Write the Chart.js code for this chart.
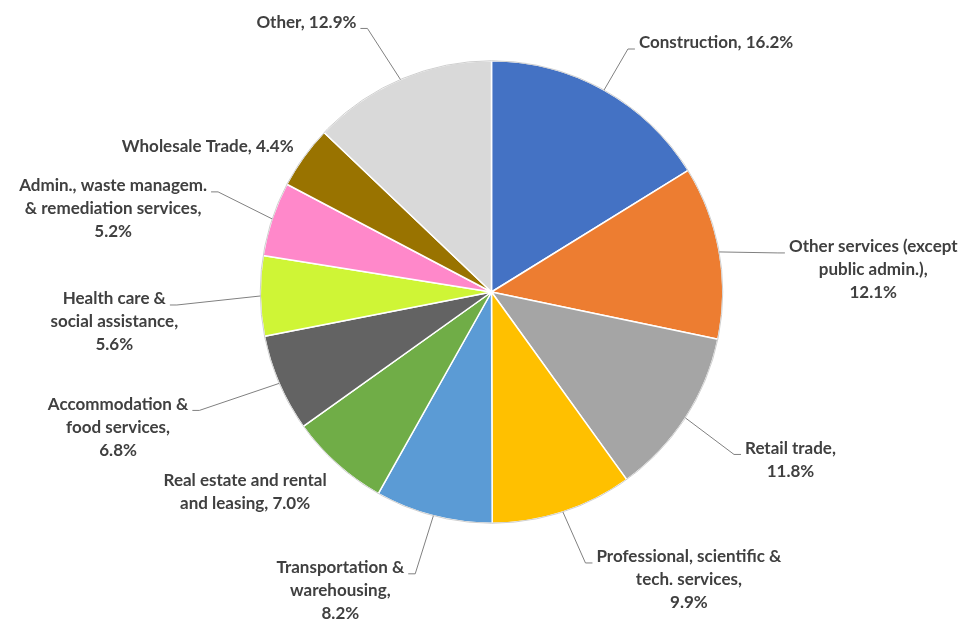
<!DOCTYPE html>
<html><head><meta charset="utf-8">
<script src="https://cdn.jsdelivr.net/npm/chart.js@4.4.1/dist/chart.umd.min.js"></script>
<style>html,body{margin:0;padding:0;background:#fff;}#wrap{width:966px;height:620px;}</style>
</head><body><div id="wrap"><canvas id="c" width="966" height="620"></canvas></div>
<script>
const categories = [
  "Construction",
  "Other services (except\npublic admin.)",
  "Retail trade",
  "Professional, scientific &\ntech. services",
  "Transportation &\nwarehousing",
  "Real estate and rental\nand leasing",
  "Accommodation &\nfood services",
  "Health care &\nsocial assistance",
  "Admin., waste managem.\n& remediation services",
  "Wholesale Trade",
  "Other"
];
const shares = [16.2, 12.1, 11.8, 9.9, 8.2, 7.0, 6.8, 5.6, 5.2, 4.4, 12.9];
const valueOnNewLine = [false, true, true, true, true, false, true, true, true, false, false];
const sliceColors = ["#4472C4","#ED7D31","#A5A5A5","#FFC000","#5B9BD5","#70AD47","#636363","#CFF536","#FF88CA","#997300","#D9D9D9"];
// label placement: offset of label centre from the slice's outer mid-point
const labelOffsets = [[112,-47],[154,18],[105,42],[126,68],[-93,75],[-92,28],[-161,44],[-146,26],[-159,-10],[-96,-11],[-94,-57]];

const FONT = 'bold 17px Lato';
const LH = 23;

const outsideLabels = {
  id: 'outsideLabels',
  afterDatasetsDraw(chart) {
    const ctx = chart.ctx;
    const meta = chart.getDatasetMeta(0);
    ctx.save();
    const a0 = meta.data[0];
    ctx.beginPath();
    ctx.arc(a0.x, a0.y, a0.outerRadius, 0, Math.PI * 2);
    ctx.strokeStyle = '#cfcfcf';
    ctx.lineWidth = 1;
    ctx.stroke();
    ctx.font = FONT;
    meta.data.forEach((arc, i) => {
      const p = arc.getProps(['x','y','startAngle','endAngle','outerRadius'], true);
      const mid = (p.startAngle + p.endAngle) / 2;
      const ex = p.x + Math.cos(mid) * p.outerRadius;
      const ey = p.y + Math.sin(mid) * p.outerRadius;
      const text = categories[i] + ',' + (valueOnNewLine[i] ? '\n' : ' ') + shares[i].toFixed(1) + '%';
      const lines = text.split('\n');
      const cx = ex + labelOffsets[i][0];
      const cy = ey + labelOffsets[i][1];
      const n = lines.length;
      const top = cy - n * LH / 2;
      const widths = lines.map(l => ctx.measureText(l).width);
      const bw = Math.max(...widths);
      const w0 = widths[0];
      const boxL = cx - bw / 2, boxR = cx + bw / 2, boxT = top, boxB = top + n * LH;
      const ddx = Math.max(boxL - ex, 0, ex - boxR);
      const ddy = Math.max(boxT - ey, 0, ey - boxB);
      if (Math.hypot(ddx, ddy) > 25) {
        const right = cx > ex;
        const endX = right ? cx - w0 / 2 - 4 : cx + w0 / 2 + 4;
        const endY = top + LH / 2 + 6;
        const stubX = right ? endX - 7 : endX + 7;
        ctx.beginPath();
        ctx.moveTo(ex, ey);
        ctx.lineTo(stubX, endY);
        ctx.lineTo(endX, endY);
        ctx.strokeStyle = '#808080';
        ctx.lineWidth = 1;
        ctx.stroke();
      }
      ctx.fillStyle = '#404040';
      ctx.textAlign = 'center';
      ctx.textBaseline = 'middle';
      lines.forEach((l, k) => ctx.fillText(l, cx, top + LH * (k + 0.5)));
    });
    ctx.restore();
  }
};

new Chart(document.getElementById('c'), {
  type: 'pie',
  data: {
    labels: categories.map(c => c.replace(/\n/g, ' ')),
    datasets: [{
      data: shares,
      backgroundColor: sliceColors,
      borderColor: '#ffffff',
      borderWidth: 1.5,
      hoverOffset: 0
    }]
  },
  options: {
    responsive: false,
    animation: false,
    devicePixelRatio: 1,
    layout: { padding: { top: 60, bottom: 96, left: 17, right: 0 } },
    plugins: { legend: { display: false }, tooltip: { enabled: false } }
  },
  plugins: [outsideLabels]
});
</script>
</body></html>
